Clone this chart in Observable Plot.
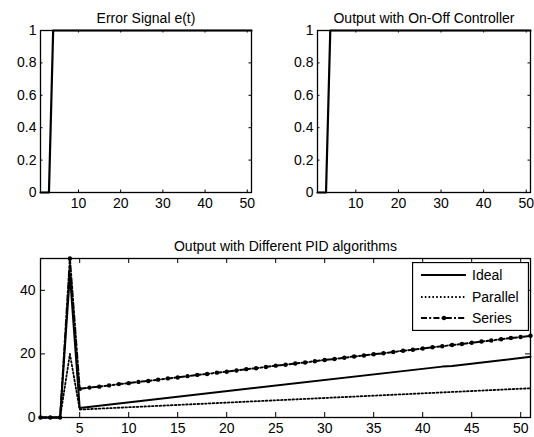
<!DOCTYPE html>
<html><head><meta charset="utf-8">
<script src="https://cdn.jsdelivr.net/npm/d3@7"></script>
<script src="https://cdn.jsdelivr.net/npm/@observablehq/plot@0.6"></script>
<style>
body{margin:0;background:#fff;}
#wrap{position:relative;width:534px;height:437px;overflow:hidden;font-family:Arial,"Liberation Sans",Helvetica,sans-serif;color:#000;}
#wrap .panel{position:absolute;}
#legend{position:absolute;left:412px;top:262px;}
</style></head><body><div id="wrap"></div>
<script>
// ---- data ----
const titles = ["Error Signal e(t)", "Output with On-Off Controller", "Output with Different PID algorithms"];
const topXTicks = [10, 20, 30, 40, 50];
const topYTicks = [0, 0.2, 0.4, 0.6, 0.8, 1];
const botXTicks = [5, 10, 15, 20, 25, 30, 35, 40, 45, 50];
const botYTicks = [0, 20, 40];

const errorT = [1, 2, 3, 4, 51];
const errorV = [0, 0, 0, 1, 1];
const onoffT = [1, 2, 3, 4, 51];
const onoffV = [0, 0, 0, 1, 1];

const seriesNames = ["Ideal", "Parallel", "Series"];
const idealT = [1, 2, 3, 4, 5, 42, 43, 51];
const idealV = [0, 0, 0, 45, 3.0, 16.0, 16.2, 19.1];
const parallelT = [1, 2, 3, 4, 5, 51];
const parallelV = [0, 0, 0, 20, 2.5, 9.2];
const seriesT = [1,2,3,4,5,6,7,8,9,10,11,12,13,14,15,16,17,18,19,20,21,22,23,24,25,26,27,28,29,30,31,32,33,34,35,36,37,38,39,40,41,42,43,44,45,46,47,48,49,50,51];
const seriesV = [0,0,0,50,
  9.0,9.4,9.7,10.1,10.5,10.8,11.2,11.5,11.9,12.3,12.6,13.0,13.4,13.7,14.1,14.4,
  14.8,15.2,15.5,15.9,16.3,16.6,17.0,17.3,17.7,18.1,18.4,18.8,19.2,19.5,19.9,20.2,
  20.6,21.0,21.3,21.7,22.1,22.4,22.8,23.1,23.5,23.9,24.2,24.6,25.0,25.3,25.7];

const toRows = (T, V) => T.map((t, i) => ({t, v: V[i]}));

// ---- styles ----
const lineStyles = {
  Ideal: {strokeWidth: 2},
  Parallel: {strokeWidth: 1.8, strokeDasharray: "1.6,2.2"},
  Series: {strokeWidth: 2, strokeDasharray: "6,2.2,2,2.2"}
};

const wrap = document.getElementById("wrap");

function panel({left, top, width, height, mt, mr, mb, ml, xDomain, yDomain, xTicks, yTicks, tickLen, title, marks, padX, padY}) {
  const fh = height - mt - mb, fw = width - ml - mr;
  const p = Plot.plot({
    width, height,
    marginTop: mt, marginRight: mr, marginBottom: mb, marginLeft: ml,
    style: {fontSize: "14px", fontFamily: "Arial, 'Liberation Sans', Helvetica, sans-serif", color: "#000", background: "transparent", overflow: "visible"},
    x: {domain: xDomain},
    y: {domain: yDomain},
    marks: [
      ...marks,
      Plot.frame({stroke: "#000", strokeWidth: 1.3}),
      Plot.ruleX(xTicks, {x: d => d, insetTop: fh - tickLen, stroke: "#000"}),
      Plot.ruleX(xTicks, {x: d => d, insetBottom: fh - tickLen, stroke: "#000"}),
      Plot.ruleY(yTicks, {y: d => d, insetRight: fw - tickLen, stroke: "#000"}),
      Plot.ruleY(yTicks, {y: d => d, insetLeft: fw - tickLen, stroke: "#000"}),
      Plot.axisX(xTicks, {tickSize: 0, tickPadding: padX, label: null, tickFormat: d => String(d), fill: "#000"}),
      Plot.axisY(yTicks, {tickSize: 0, tickPadding: padY, label: null, tickFormat: d => String(d), fill: "#000"}),
      Plot.text([title], {text: d => d, frameAnchor: "top", dy: -17, fill: "#000", fontSize: 14})
    ]
  });
  p.classList.add("panel");
  p.style.left = left + "px";
  p.style.top = top + "px";
  wrap.appendChild(p);
}

panel({left: 0, top: 0, width: 267, height: 215, mt: 30, mr: 16, mb: 23, ml: 40,
  xDomain: [1, 51], yDomain: [0, 1], xTicks: topXTicks, yTicks: topYTicks, tickLen: 2.5,
  title: titles[0], padX: 6, padY: 4,
  marks: [Plot.line(toRows(errorT, errorV), {x: "t", y: "v", stroke: "#000", strokeWidth: 2.2})]});

panel({left: 267, top: 0, width: 267, height: 215, mt: 30, mr: 4, mb: 23, ml: 50,
  xDomain: [1, 51], yDomain: [0, 1], xTicks: topXTicks, yTicks: topYTicks, tickLen: 2.5,
  title: titles[1], padX: 6, padY: 4,
  marks: [Plot.line(toRows(onoffT, onoffV), {x: "t", y: "v", stroke: "#000", strokeWidth: 2.2})]});

const seriesRows = toRows(seriesT, seriesV);
panel({left: 0, top: 215, width: 534, height: 222, mt: 43, mr: 4, mb: 20, ml: 40,
  xDomain: [1, 51], yDomain: [0, 50], xTicks: botXTicks, yTicks: botYTicks, tickLen: 5,
  title: titles[2], padX: 6, padY: 5,
  marks: [
    Plot.line(toRows(idealT, idealV), {x: "t", y: "v", stroke: "#000", ...lineStyles.Ideal}),
    Plot.line(toRows(parallelT, parallelV), {x: "t", y: "v", stroke: "#000", ...lineStyles.Parallel}),
    Plot.line(seriesRows, {x: "t", y: "v", stroke: "#000", ...lineStyles.Series}),
    Plot.dot(seriesRows, {x: "t", y: "v", r: 2.2, fill: "#000", stroke: "none"})
  ]});

// ---- legend ----
const lw = 117, lh = 69;
const leg = d3.create("svg").attr("id", "legend").attr("width", lw).attr("height", lh)
  .style("font-family", "Arial, 'Liberation Sans', Helvetica, sans-serif").style("font-size", "14px");
leg.append("rect").attr("x", 0.5).attr("y", 0.5).attr("width", lw - 1).attr("height", lh - 1)
  .attr("fill", "#fff").attr("stroke", "#000").attr("stroke-width", 1.3);
const rowY = [13, 35, 56];
seriesNames.forEach((name, i) => {
  const s = lineStyles[name];
  leg.append("line").attr("x1", 9).attr("x2", 54).attr("y1", rowY[i]).attr("y2", rowY[i])
    .attr("stroke", "#000").attr("stroke-width", s.strokeWidth)
    .attr("stroke-dasharray", s.strokeDasharray || null);
  if (name === "Series") leg.append("circle").attr("cx", 32).attr("cy", rowY[i]).attr("r", 2.2).attr("fill", "#000");
  leg.append("text").attr("x", 60).attr("y", rowY[i]).attr("dy", "0.35em").attr("fill", "#000").text(name);
});
wrap.appendChild(leg.node());
</script>
</body></html>
